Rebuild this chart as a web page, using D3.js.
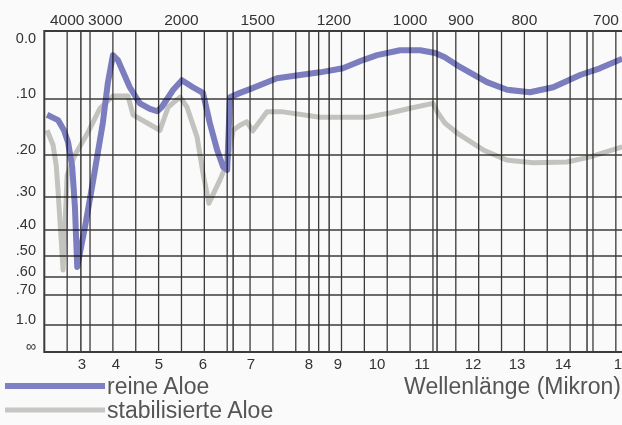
<!DOCTYPE html>
<html><head><meta charset="utf-8">
<script src="https://cdn.jsdelivr.net/npm/d3@7"></script>
<style>
html,body{margin:0;padding:0;background:#fafafa;}
svg{display:block;}
text{font-family:"Liberation Sans",Arial,Helvetica,sans-serif;}
</style>
</head><body>
<svg id="c" width="622" height="425"></svg>
<script>
// ---- data (wavelength in micron, absorbance) ----
const blueMicron = [2.06, 2.30, 2.43, 2.52, 2.61, 2.67, 2.72, 2.89, 3.07, 3.28, 3.39, 3.50, 3.61, 3.87, 4.09, 4.31, 4.47, 4.57, 4.82, 5.01, 5.25, 5.47, 5.62, 5.78, 5.91, 6.00, 6.06, 6.28, 6.50, 7.09, 7.59, 8.03, 8.53, 8.97, 9.28, 9.78, 10.22, 10.55, 10.76, 11.09, 11.68, 12.12, 12.62, 13.13, 13.72, 14.15, 14.64];
const blueAbs = [0.126, 0.135, 0.153, 0.175, 0.226, 0.328, 0.549, 0.390, 0.257, 0.140, 0.074, 0.033, 0.040, 0.081, 0.107, 0.116, 0.120, 0.113, 0.085, 0.070, 0.081, 0.090, 0.140, 0.190, 0.226, 0.233, 0.097, 0.090, 0.084, 0.067, 0.062, 0.058, 0.052, 0.040, 0.033, 0.026, 0.026, 0.030, 0.036, 0.050, 0.073, 0.085, 0.089, 0.081, 0.062, 0.052, 0.038];
const grayMicron = [2.06, 2.19, 2.26, 2.30, 2.37, 2.41, 2.50, 2.67, 2.96, 3.22, 3.50, 3.83, 3.94, 4.25, 4.53, 4.71, 4.97, 5.12, 5.34, 5.47, 5.60, 5.84, 6.00, 6.13, 6.28, 6.43, 6.56, 6.87, 7.22, 8.03, 9.06, 9.56, 10.00, 10.50, 10.61, 10.76, 11.03, 11.60, 12.12, 12.69, 13.43, 13.94, 14.64];
const grayAbs = [0.153, 0.180, 0.222, 0.282, 0.436, 0.564, 0.245, 0.200, 0.156, 0.115, 0.095, 0.095, 0.126, 0.140, 0.153, 0.113, 0.097, 0.113, 0.165, 0.240, 0.317, 0.257, 0.217, 0.153, 0.144, 0.138, 0.154, 0.121, 0.121, 0.130, 0.130, 0.123, 0.115, 0.107, 0.123, 0.140, 0.158, 0.190, 0.211, 0.217, 0.215, 0.204, 0.184];

const micronTicks = [3, 4, 5, 6, 7, 8, 9, 10, 11, 12, 13, 14, 15];
const wavenumberTicks = [4000, 3000, 2000, 1500, 1200, 1000, 900, 800, 700];
const absTicks = [0, 0.1, 0.2, 0.3, 0.4, 0.5, 0.6, 0.7, 1.0, Infinity];
const absTickLabels = ["0.0", ".10", ".20", ".30", ".40", ".50", ".60", ".70", "1.0", "\u221E"];
const extraGridMicron = [2.80, 6.13, 7.79, 8.23, 10.59, 13.87];
const seriesNames = ["reine Aloe", "stabilisierte Aloe"];
const axisTitle = "Wellenlänge (Mikron)";

// ---- scales ----
const svg = d3.select("#c");
const x = d3.scaleLinear().domain([2, 15]).range([44.3, 638.7]);
// printed micron labels sit on their own (irregular) positions in the original artwork
const xLabel = d3.scaleLinear().domain(micronTicks)
  .range([82, 116, 159, 203, 251, 309, 338, 377, 422, 473, 517, 563, 622]);
const toT = a => Math.pow(10, -a);
// transmittance-linear absorbance axis (scan-corrected breakpoints)
const y = d3.scaleLinear().domain(absTicks.map(toT))
  .range([31, 99, 155, 197, 230, 256, 277, 295, 325, 352]);
const ya = a => y(toT(a));

const W = 622, yTop = ya(0), yBottom = ya(Infinity), xLeft = x(2);

// ---- grid ----
const grid = svg.append("g").attr("stroke", "#3d3b39").attr("fill", "none");
grid.selectAll("line.v").data(d3.range(2.5, 15.01, 0.5)).join("line")
  .attr("class", "v")
  .attr("x1", d => x(d)).attr("x2", d => x(d)).attr("y1", yTop).attr("y2", yBottom)
  .attr("stroke-width", 1.3);
grid.selectAll("line.e").data(extraGridMicron).join("line")
  .attr("class", "e")
  .attr("x1", d => x(d)).attr("x2", d => x(d)).attr("y1", yTop).attr("y2", yBottom)
  .attr("stroke-width", 1.5);
grid.selectAll("line.h").data(absTicks.slice(1, -1)).join("line")
  .attr("class", "h")
  .attr("x1", xLeft).attr("x2", W).attr("y1", d => ya(d)).attr("y2", d => ya(d))
  .attr("stroke-width", 1.3);
grid.append("path").attr("stroke-width", 2)
  .attr("d", `M${W},${yTop}H${xLeft}V${yBottom}H${W}`);

// ---- curves ----
const line = d3.line().x(d => x(d[0])).y(d => ya(d[1]));
const curves = svg.append("g").style("mix-blend-mode", "multiply");
curves.append("path").datum(d3.zip(grayMicron, grayAbs))
  .attr("d", line).attr("fill", "none").attr("stroke", "#c6c6c3")
  .attr("stroke-width", 5).attr("stroke-linejoin", "round");
curves.append("path").datum(d3.zip(blueMicron, blueAbs))
  .attr("d", line).attr("fill", "none").attr("stroke", "#7d80c3")
  .attr("stroke-width", 6).attr("stroke-linejoin", "round");

// ---- axes labels ----
svg.append("g").selectAll("text").data(wavenumberTicks).join("text")
  .attr("x", d => x(1e4 / d)).attr("y", 25).attr("text-anchor", "middle")
  .attr("font-size", 15.5).attr("fill", "#333").text(d => d);

svg.append("g").selectAll("text").data(absTicks).join("text")
  .attr("x", 36).attr("y", (d, i) => i === 0 ? ya(d) + 12 : ya(d) - 1)
  .attr("text-anchor", "end").attr("font-size", 14.5).attr("fill", "#333")
  .text((d, i) => absTickLabels[i]);

svg.append("g").selectAll("text").data(micronTicks).join("text")
  .attr("x", d => xLabel(d)).attr("y", 369).attr("text-anchor", "middle")
  .attr("font-size", 15).attr("fill", "#333").text(d => d);

svg.append("text").attr("x", 621).attr("y", 394).attr("text-anchor", "end")
  .attr("font-size", 23).attr("fill", "#555").text(axisTitle);

// ---- legend ----
const legendColors = ["#7d80c3", "#c6c6c3"];
const lg = svg.append("g");
seriesNames.forEach((name, i) => {
  const yy = 386 + i * 24;
  lg.append("line").attr("x1", 5).attr("x2", 105).attr("y1", yy).attr("y2", yy)
    .attr("stroke", legendColors[i]).attr("stroke-width", i === 0 ? 6 : 5);
  lg.append("text").attr("x", 107).attr("y", yy + 8).attr("font-size", 23)
    .attr("fill", "#555").text(name);
});
</script>
</body></html>
